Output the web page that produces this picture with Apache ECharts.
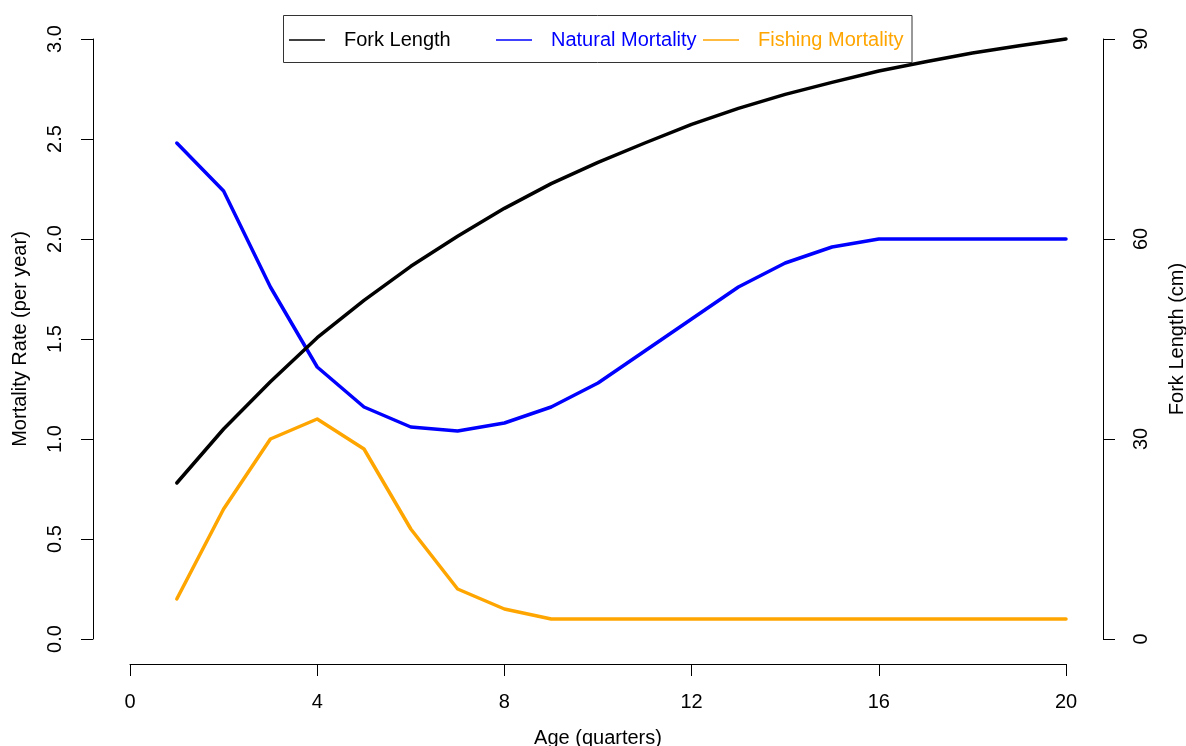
<!DOCTYPE html>
<html>
<head>
<meta charset="utf-8">
<script src="https://cdn.jsdelivr.net/npm/echarts@6/dist/echarts.min.js"></script>
<style>
  html, body { margin: 0; padding: 0; background: #ffffff; }
  #chart { width: 1186px; height: 746px; }
</style>
</head>
<body>
<div id="chart"></div>
<script>
// Age in quarters
const ages = [1, 2, 3, 4, 5, 6, 7, 8, 9, 10, 11, 12, 13, 14, 15, 16, 17, 18, 19, 20];
// Fork length at age (cm), right axis
const forkLength = [23.4, 31.5, 38.6, 45.2, 50.8, 55.9, 60.4, 64.6, 68.3, 71.5,
                    74.4, 77.2, 79.6, 81.7, 83.5, 85.2, 86.6, 87.9, 89.0, 90.0];
// Mortality rates (per year), left axis
const naturalMortality = [2.48, 2.24, 1.76, 1.36, 1.16, 1.06, 1.04, 1.08, 1.16, 1.28,
                          1.44, 1.60, 1.76, 1.88, 1.96, 2.00, 2.00, 2.00, 2.00, 2.00];
const fishingMortality = [0.20, 0.65, 1.00, 1.10, 0.95, 0.55, 0.25, 0.15, 0.10, 0.10,
                          0.10, 0.10, 0.10, 0.10, 0.10, 0.10, 0.10, 0.10, 0.10, 0.10];
// Axis tick values
const ageTicks = [0, 4, 8, 12, 16, 20];
const mortalityTicks = [0.0, 0.5, 1.0, 1.5, 2.0, 2.5, 3.0];
const lengthTicks = [0, 30, 60, 90];

const FONT = '"Liberation Sans", Arial, Helvetica, sans-serif';
const seriesNames = ['Fork Length', 'Natural Mortality', 'Fishing Mortality'];
const seriesColors = ['#000000', '#0000ff', '#ffa500'];

const pairs = (ys) => ages.map((a, i) => [a, ys[i]]);

const axisLineStyle = { color: '#000000', width: 1 };
const textBase = { fontFamily: FONT, fontSize: 20, color: '#000000', lineHeight: 20 };

function legendFor(idx, left) {
  return {
    data: [seriesNames[idx]],
    left: left,
    top: 30,
    padding: 0,
    icon: 'rect',
    itemWidth: 36,
    itemHeight: 1.3,
    selectedMode: false,
    textStyle: Object.assign({}, textBase, { color: seriesColors[idx], padding: [0, 0, 0, 14] })
  };
}

const chart = echarts.init(document.getElementById('chart'), null, { renderer: 'canvas' });

chart.setOption({
  animation: false,
  backgroundColor: '#ffffff',
  grid: { left: 130, right: 120, top: 39, bottom: 107, containLabel: false, outerBoundsMode: 'none' },
  graphic: [{
    type: 'rect',
    z: 100,
    shape: { x: 283.5, y: 15.5, width: 628.5, height: 47 },
    style: { fill: null, stroke: '#333333', lineWidth: 1 }
  }],
  legend: [legendFor(0, 289), legendFor(1, 496), legendFor(2, 703)],
  xAxis: {
    type: 'value',
    min: ageTicks[0],
    max: ageTicks[ageTicks.length - 1],
    interval: ageTicks[1] - ageTicks[0],
    offset: 25,
    name: 'Age (quarters)',
    nameLocation: 'middle',
    nameGap: 64,
    nameTextStyle: textBase,
    axisLine: { show: true, onZero: false, lineStyle: axisLineStyle },
    axisTick: { show: true, length: 12, lineStyle: axisLineStyle },
    axisLabel: Object.assign({ margin: 28 }, textBase),
    splitLine: { show: false }
  },
  yAxis: [{
    type: 'value',
    position: 'left',
    min: mortalityTicks[0],
    max: mortalityTicks[mortalityTicks.length - 1],
    interval: mortalityTicks[1] - mortalityTicks[0],
    offset: 37,
    name: 'Mortality Rate (per year)',
    nameLocation: 'middle',
    nameGap: 63,
    nameTextStyle: textBase,
    axisLine: { show: true, onZero: false, lineStyle: axisLineStyle },
    axisTick: { show: true, length: 12, lineStyle: axisLineStyle },
    axisLabel: Object.assign({ margin: 28, rotate: 90, formatter: (v) => v.toFixed(1) }, textBase),
    splitLine: { show: false }
  }, {
    type: 'value',
    position: 'right',
    min: lengthTicks[0],
    max: lengthTicks[lengthTicks.length - 1],
    interval: lengthTicks[1] - lengthTicks[0],
    offset: 37,
    name: 'Fork Length (cm)',
    nameLocation: 'middle',
    nameGap: 64,
    nameRotate: 90,
    nameTextStyle: textBase,
    axisLine: { show: true, onZero: false, lineStyle: axisLineStyle },
    axisTick: { show: true, length: 12, lineStyle: axisLineStyle },
    axisLabel: Object.assign({ margin: 28, rotate: 90 }, textBase),
    splitLine: { show: false }
  }],
  series: [{
    name: seriesNames[1],
    type: 'line',
    yAxisIndex: 0,
    data: pairs(naturalMortality),
    showSymbol: false,
    symbol: 'none',
    clip: false,
    color: seriesColors[1],
    lineStyle: { color: seriesColors[1], width: 3.5, cap: 'round', join: 'round' }
  }, {
    name: seriesNames[2],
    type: 'line',
    yAxisIndex: 0,
    data: pairs(fishingMortality),
    showSymbol: false,
    symbol: 'none',
    clip: false,
    color: seriesColors[2],
    lineStyle: { color: seriesColors[2], width: 3.5, cap: 'round', join: 'round' }
  }, {
    name: seriesNames[0],
    type: 'line',
    yAxisIndex: 1,
    data: pairs(forkLength),
    showSymbol: false,
    symbol: 'none',
    clip: false,
    color: seriesColors[0],
    lineStyle: { color: seriesColors[0], width: 3.5, cap: 'round', join: 'round' }
  }]
});
</script>
</body>
</html>
